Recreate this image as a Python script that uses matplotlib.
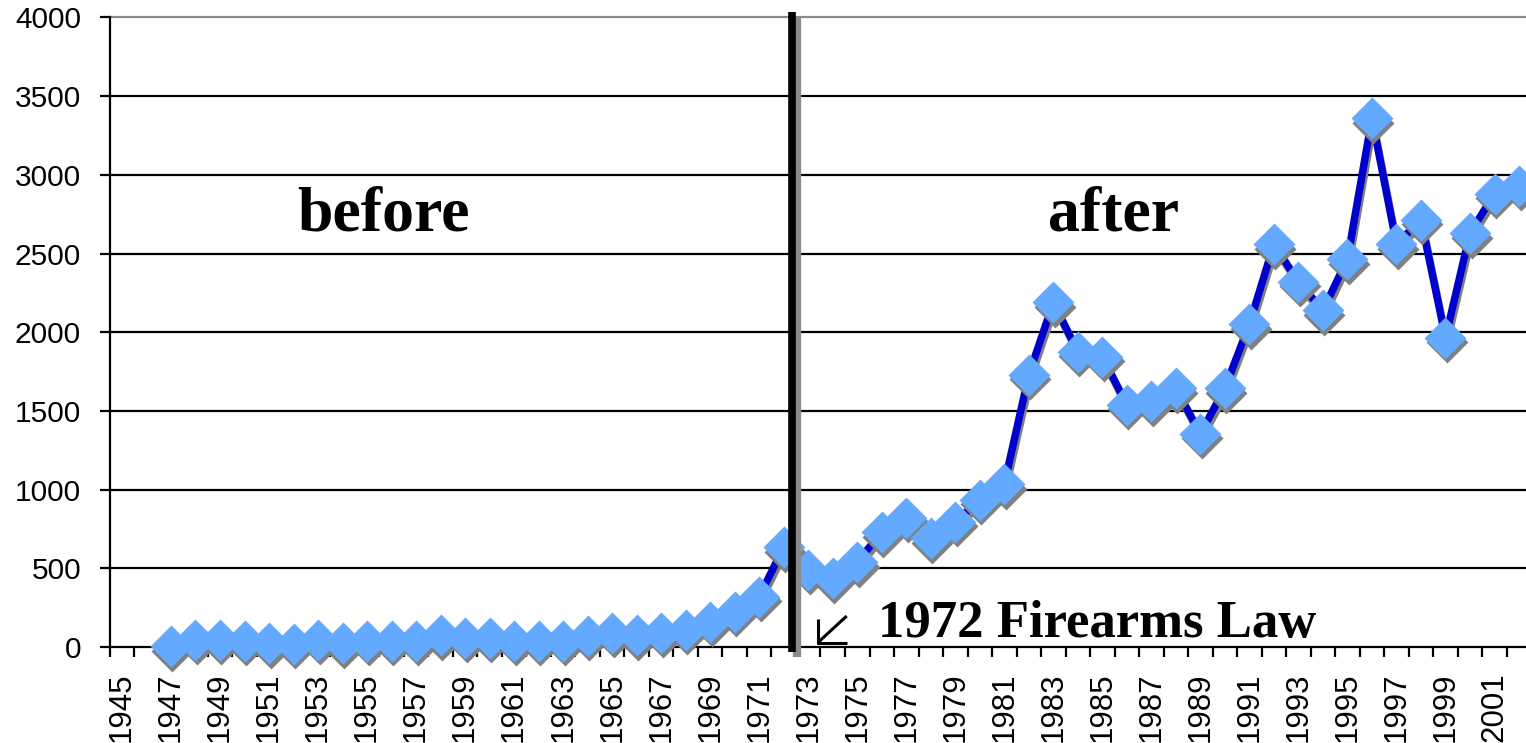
import matplotlib
matplotlib.use("Agg")
import matplotlib.pyplot as plt
from matplotlib.lines import Line2D
from matplotlib.transforms import offset_copy
import numpy as np

# ---- data ----
years = list(range(1945, 2003))
first_year = 1947
values = [5, 45, 45, 40, 25, 20, 45, 25, 40, 40, 40, 75, 60, 60, 40, 40, 40,
          70, 90, 75, 90, 110, 160, 225, 320, 635,
          490, 437, 540, 730, 820, 690, 795, 935, 1035, 1730, 2190, 1877,
          1845, 1540, 1560, 1645, 1355, 1645, 2052, 2560, 2320, 2140, 2465,
          3360, 2560, 2715, 1965, 2630, 2880, 2930]
label_years = [str(y) for y in years[::2]]
y_ticks = [0, 500, 1000, 1500, 2000, 2500, 3000, 3500, 4000]
law_year = 1972
text_before = "before"
text_after = "after"
text_law = "1972 Firearms Law"

W, H = 1526, 743
fig = plt.figure(figsize=(W / 100, H / 100), dpi=100)
fig.patch.set_facecolor("white")

left_px, zero_px, top_px, step_px = 109.7, 647.0, 17.5, 24.51
xr = (W - left_px) / step_px - 0.5
ax = fig.add_axes([left_px / W, (H - zero_px) / H, (W - left_px) / W, (zero_px - top_px) / H])
ax.set_xlim(-0.5, xr)
ax.set_ylim(0, 4000)

x_idx = np.arange(len(years))
pts_x = np.array([years.index(first_year) + i for i in range(len(values))])
pts_y = np.array(values)

# gridlines
for v in y_ticks:
    if v == 0:
        continue
    ax.axhline(v, color=("#8a8a8a" if v == 4000 else "black"), lw=1.6, zorder=1, clip_on=False)

# shadow transform
shadow = offset_copy(ax.transData, fig=fig, x=1.5, y=-4.5, units="dots")
ax.plot(pts_x, pts_y, color="#808080", lw=5.4, transform=shadow, zorder=3,
        solid_joinstyle="miter", clip_on=False)
ax.plot(pts_x, pts_y, color="#0000CC", lw=5.4, zorder=4, solid_joinstyle="miter", clip_on=False)
ax.plot(pts_x, pts_y, ls="none", marker="D", ms=21.5, mfc="#808080", mec="none",
        transform=shadow, zorder=5, clip_on=False)
ax.plot(pts_x, pts_y, ls="none", marker="D", ms=21.5, mfc="#63A9FF", mec="none", zorder=6,
        clip_on=False)

# vertical law line
xl = years.index(law_year) + 0.5
gtr = offset_copy(ax.transData, fig=fig, x=1.5, y=0, units="dots")
btr = offset_copy(ax.transData, fig=fig, x=-3.8, y=0, units="dots")
ax.plot([xl, xl], [-65, 4000], color="#8a8a8a", lw=6.0, transform=gtr, clip_on=False,
        zorder=7, solid_capstyle="butt")
ax.plot([xl, xl], [-30, 4035], color="black", lw=5.5, transform=btr, clip_on=False,
        zorder=8, solid_capstyle="butt")

# axes styling
for s in ["top", "right"]:
    ax.spines[s].set_visible(False)
for s in ["left", "bottom"]:
    ax.spines[s].set_linewidth(1.6)
    ax.spines[s].set_color("black")
    ax.spines[s].set_zorder(2)

ax.set_yticks(y_ticks)
ax.set_yticklabels([str(v) for v in y_ticks], fontsize=21.5, family="Liberation Sans")
ax.tick_params(axis="y", direction="out", length=7.2, width=1.6, pad=13.5, color="black")

ax.set_xticks(x_idx[::2])
ax.set_xticklabels(label_years, rotation=90, fontsize=22.5, family="Liberation Sans",
                   va="top", ha="center")
ax.tick_params(axis="x", which="major", length=0, pad=18)
ax.set_xticks(np.arange(-0.5, xr, 1.0), minor=True)
ax.tick_params(axis="x", which="minor", direction="out", length=7.2, width=1.6, color="black")

# texts
def fx(px):
    return px / W

def fy(py):
    return 1 - py / H

serif = dict(family="Liberation Serif", weight="bold", color="black")
fig.text(fx(384), fy(230), text_before, ha="center", va="baseline", fontsize=46, **serif)
fig.text(fx(1114), fy(230), text_after, ha="center", va="baseline", fontsize=46, **serif)
fig.text(fx(878), fy(637), text_law, ha="left", va="baseline", fontsize=38, **serif)

# arrow glyph
arrow_lines = [((846.7, 616.0), (818.5, 642.0)),
               ((817.8, 618.5), (817.8, 643.5)),
               ((816.8, 642.8), (846.7, 642.8))]
for (x0, y0), (x1, y1) in arrow_lines:
    fig.add_artist(Line2D([fx(x0), fx(x1)], [fy(y0), fy(y1)], transform=fig.transFigure,
                          color="black", lw=2.2, solid_capstyle="butt"))

fig.savefig("out.png", dpi=100, facecolor="white")
